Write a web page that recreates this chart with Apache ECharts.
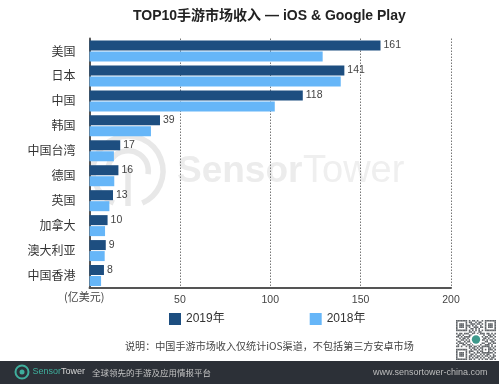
<!DOCTYPE html>
<html>
<head>
<meta charset="utf-8">
<style>
  html, body { margin: 0; padding: 0; background: #fff; }
  #chart { width: 499px; height: 384px; }
</style>
<script src="https://cdn.jsdelivr.net/npm/echarts@6/dist/echarts.min.js"></script>
</head>
<body>
<div id="chart"></div>
<script>
const categories = ["美国", "日本", "中国", "韩国", "中国台湾", "德国", "英国", "加拿大", "澳大利亚", "中国香港"];
const values2019 = [161, 141, 118, 39, 17, 16, 13, 10, 9, 8];
const values2018 = [129, 139, 102.5, 34, 13.5, 13.7, 11, 8.6, 8.4, 6.4];
const seriesNames = ["2019年", "2018年"];
const axisMax = 200;
const axisStep = 50;

const FONT = "'Liberation Sans', 'Noto Sans CJK SC', sans-serif";
const CJK = "'Noto Sans CJK SC', 'Liberation Sans', sans-serif";

// qr pattern, only decoration in the bottom right corner
const qrRows = [
  "1111111010110100101111111",
  "1000001011001011001000001",
  "1011101001110110101011101",
  "1011101110101001001011101",
  "1011101010011101101011101",
  "1000001001101010001000001",
  "1111111010101010101111111",
  "0000000011010011000000000",
  "1011011100110101110110101",
  "0110100011001110010011010",
  "1101011110000000101101101",
  "0010110100000000011010010",
  "1001101010000000110101101",
  "0110010110000000001100110",
  "1011101001000000110011011",
  "0100110110100101001110100",
  "1101001011011010111110101",
  "0000000010110101100011010",
  "1111111001011010101011101",
  "1000001011100101100010010",
  "1011101010010110111111101",
  "1011101001101001010110010",
  "1011101011010110101101011",
  "1000001010101101010010110",
  "1111111011010010101101101"
];

function qrGraphic() {
  const size = 1.6;
  const out = [];
  qrRows.forEach((row, r) => {
    row.split("").forEach((c, i) => {
      if (c === "1") {
        out.push({
          type: "rect",
          silent: true,
          shape: { x: 456 + i * size, y: 320 + r * size, width: size, height: size },
          style: { fill: "#3a3f43", opacity: 0.8 }
        });
      }
    });
  });
  out.push({ type: "circle", shape: { cx: 476, cy: 339.5, r: 6 }, style: { fill: "#fff" } });
  out.push({ type: "circle", shape: { cx: 476, cy: 339.5, r: 4.2 }, style: { fill: "#3f9a8c" } });
  return out;
}

// sensor tower mark: open ring, inner arc and a stem
function logoMark(cx, cy, r, color, lw) {
  const gap = 0.42;
  return [
    {
      type: "arc",
      silent: true,
      z: -1,
      shape: { cx: cx, cy: cy, r: r, startAngle: Math.PI / 2 + gap, endAngle: Math.PI / 2 - gap + Math.PI * 2 },
      style: { stroke: color, lineWidth: lw, fill: null }
    },
    {
      type: "arc",
      silent: true,
      z: -1,
      shape: { cx: cx, cy: cy, r: r * 0.58, startAngle: Math.PI * 0.95, endAngle: Math.PI * 2.05 },
      style: { stroke: color, lineWidth: lw, fill: null }
    },
    {
      type: "line",
      silent: true,
      z: -1,
      shape: { x1: cx, y1: cy - r * 0.1, x2: cx, y2: cy + r },
      style: { stroke: color, lineWidth: lw }
    }
  ];
}

const barLabel = {
  show: true,
  position: "right",
  distance: 3,
  fontFamily: FONT,
  fontSize: 10.5,
  color: "#444"
};

const option = {
  animation: false,
  backgroundColor: "#ffffff",
  title: {
    text: "TOP10手游市场收入 — iOS & Google Play",
    left: 128,
    top: 4,
    textStyle: { fontFamily: FONT, fontSize: 14, fontWeight: "bold", color: "#222" }
  },
  grid: { left: 89.5, right: 48, top: 38.5, bottom: 96 },
  legend: {
    left: 164,
    top: 308,
    itemWidth: 12,
    itemHeight: 12,
    itemGap: 85,
    icon: "rect",
    data: seriesNames,
    selectedMode: false,
    textStyle: { fontFamily: FONT, fontSize: 12, color: "#333" }
  },
  xAxis: {
    type: "value",
    min: 0,
    max: axisMax,
    interval: axisStep,
    axisLine: { show: true, lineStyle: { color: "#555", width: 2 } },
    axisTick: { show: false },
    axisLabel: {
      fontFamily: FONT,
      fontSize: 10.5,
      color: "#444",
      margin: 7,
      formatter: (v) => (v === 0 ? "" : String(v))
    },
    splitLine: { show: true, lineStyle: { color: "#777", type: [1.5, 1.5], width: 1 } }
  },
  yAxis: {
    type: "category",
    inverse: true,
    data: categories,
    axisLine: { show: true, onZero: false, lineStyle: { color: "#555", width: 2 } },
    axisTick: { show: false },
    axisLabel: { fontFamily: CJK, fontSize: 12, color: "#333", margin: 14 }
  },
  series: [
    {
      name: seriesNames[0],
      type: "bar",
      data: values2019,
      barWidth: 10,
      barGap: "10%",
      itemStyle: { color: "#1d4e80" },
      label: barLabel
    },
    {
      name: seriesNames[1],
      type: "bar",
      data: values2018,
      barWidth: 10,
      itemStyle: { color: "#66b6f8" }
    }
  ],
  graphic: { elements: [
    ...logoMark(128, 171, 35, "#e8e8e8", 5.5),
    {
      type: "text",
      silent: true,
      z: -1,
      x: 177,
      y: 153,
      style: { text: "Sensor", fontFamily: FONT, fontSize: 37, fontWeight: "bold", fill: "#ececec" }
    },
    {
      type: "text",
      silent: true,
      z: -1,
      x: 303,
      y: 153,
      style: { text: "Tower", fontFamily: FONT, fontSize: 38, fill: "#efefef" }
    },
    {
      type: "text",
      x: 64,
      y: 291,
      style: { text: "(亿美元)", fontFamily: CJK, fontSize: 11, fill: "#444" }
    },
    {
      type: "text",
      x: 125,
      y: 341,
      style: { text: "说明：中国手游市场收入仅统计iOS渠道，不包括第三方安卓市场", fontFamily: CJK, fontSize: 10.1, fill: "#444" }
    },
    ...qrGraphic(),
    {
      type: "rect",
      z: 5,
      shape: { x: 0, y: 361, width: 499, height: 23 },
      style: { fill: "#2c3037" }
    },
    {
      type: "circle",
      z: 6,
      shape: { cx: 22, cy: 372, r: 6.5 },
      style: { fill: null, stroke: "#3fae9c", lineWidth: 2 }
    },
    {
      type: "circle",
      z: 6,
      shape: { cx: 22, cy: 372, r: 2.5 },
      style: { fill: "#3fae9c" }
    },
    {
      type: "text",
      z: 6,
      x: 32.5,
      y: 367.5,
      style: { text: "Sensor", fontFamily: FONT, fontSize: 9, fill: "#3fae9c" }
    },
    {
      type: "text",
      z: 6,
      x: 61,
      y: 367.5,
      style: { text: "Tower", fontFamily: FONT, fontSize: 9, fill: "#d5d5d5" }
    },
    {
      type: "text",
      z: 6,
      x: 92,
      y: 369,
      style: { text: "全球领先的手游及应用情报平台", fontFamily: CJK, fontSize: 8.5, fill: "#c4c4c4" }
    },
    {
      type: "text",
      z: 6,
      x: 373,
      y: 368,
      style: { text: "www.sensortower-china.com", fontFamily: FONT, fontSize: 9, fill: "#bdbdbd" }
    }
  ] }
};

const chart = echarts.init(document.getElementById("chart"));
chart.setOption(option);
</script>
</body>
</html>
